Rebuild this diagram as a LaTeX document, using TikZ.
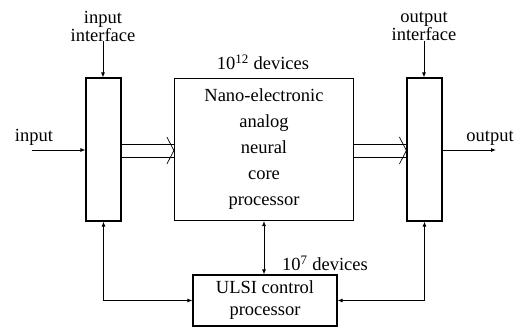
\documentclass[tikz,border=0pt]{standalone}
\usepackage{fontspec}
\setmainfont{Liberation Serif}
\usetikzlibrary{arrows.meta}
\begin{document}
\begin{tikzpicture}[x=1pt,y=-1pt,
  box/.style={draw,line width=1.2pt,rectangle,inner sep=0pt},
  lbl/.style={font=\fontsize{18.5}{18}\selectfont,align=center,inner sep=0pt},
  conn/.style={line width=0.8pt,-{Latex[length=5pt,width=4pt]}},
  biconn/.style={line width=0.8pt,{Latex[length=5pt,width=4pt]}-{Latex[length=5pt,width=4pt]}},
  dbl/.style={line width=0.7pt}]
\useasboundingbox (0,0) rectangle (515,327);
% boxes
\node[box,minimum width=35pt,minimum height=143pt] (inbox) at (103.5,149.5) {};
\node[box,minimum width=179pt,minimum height=142pt,align=center,
      font=\fontsize{18.5}{26}\selectfont] (core) at (264,149.5)
  {Nano-electronic\\analog\\neural\\core\\processor};
\node[box,minimum width=35pt,minimum height=143pt] (outbox) at (424.5,149.5) {};
\node[box,minimum width=144pt,minimum height=51pt,align=center,
      font=\fontsize{18.5}{22}\selectfont] (ulsi) at (265,300.5)
  {ULSI control\\processor};
% labels
\node[lbl] (iil) at (103,26) {input\\interface};
\node[lbl] (oil) at (424,26) {output\\interface};
\node[lbl] (inl) at (34,137) {input};
\node[lbl] (outl) at (490,138) {output};
\node[lbl] (d12) at (263,62) {10\textsuperscript{12} devices};
\node[lbl] (d7) at (325,263) {10\textsuperscript{7} devices};
% connectors
\coordinate (inS) at (32,150);
\coordinate (outE) at (496,150);
\draw[conn] (inS) -- (inS -| inbox.west);
\draw[conn] (outbox.east |- outE) -- (outE);
\draw[conn] (iil.south) -- (iil.south |- inbox.north);
\draw[conn] (oil.south) -- (oil.south |- outbox.north);
% double arrows
\draw[dbl] (inbox.east |- 0,144) -- (core.west |- 0,144);
\draw[dbl] (inbox.east |- 0,157) -- (core.west |- 0,157);
\draw[dbl] ([xshift=-7pt]core.west |- 0,137) -- (core.west |- 0,150.5) -- ([xshift=-7pt]core.west |- 0,164);
\draw[dbl] (core.east |- 0,144) -- (outbox.west |- 0,144);
\draw[dbl] (core.east |- 0,157) -- (outbox.west |- 0,157);
\draw[dbl] ([xshift=-7pt]outbox.west |- 0,137) -- (outbox.west |- 0,150.5) -- ([xshift=-7pt]outbox.west |- 0,164);
% control links
\draw[biconn] (core.south) -- (core.south |- ulsi.north);
\draw[biconn] (inbox.south) |- (ulsi.west);
\draw[biconn] (ulsi.east) -| (outbox.south);
\end{tikzpicture}
\end{document}
